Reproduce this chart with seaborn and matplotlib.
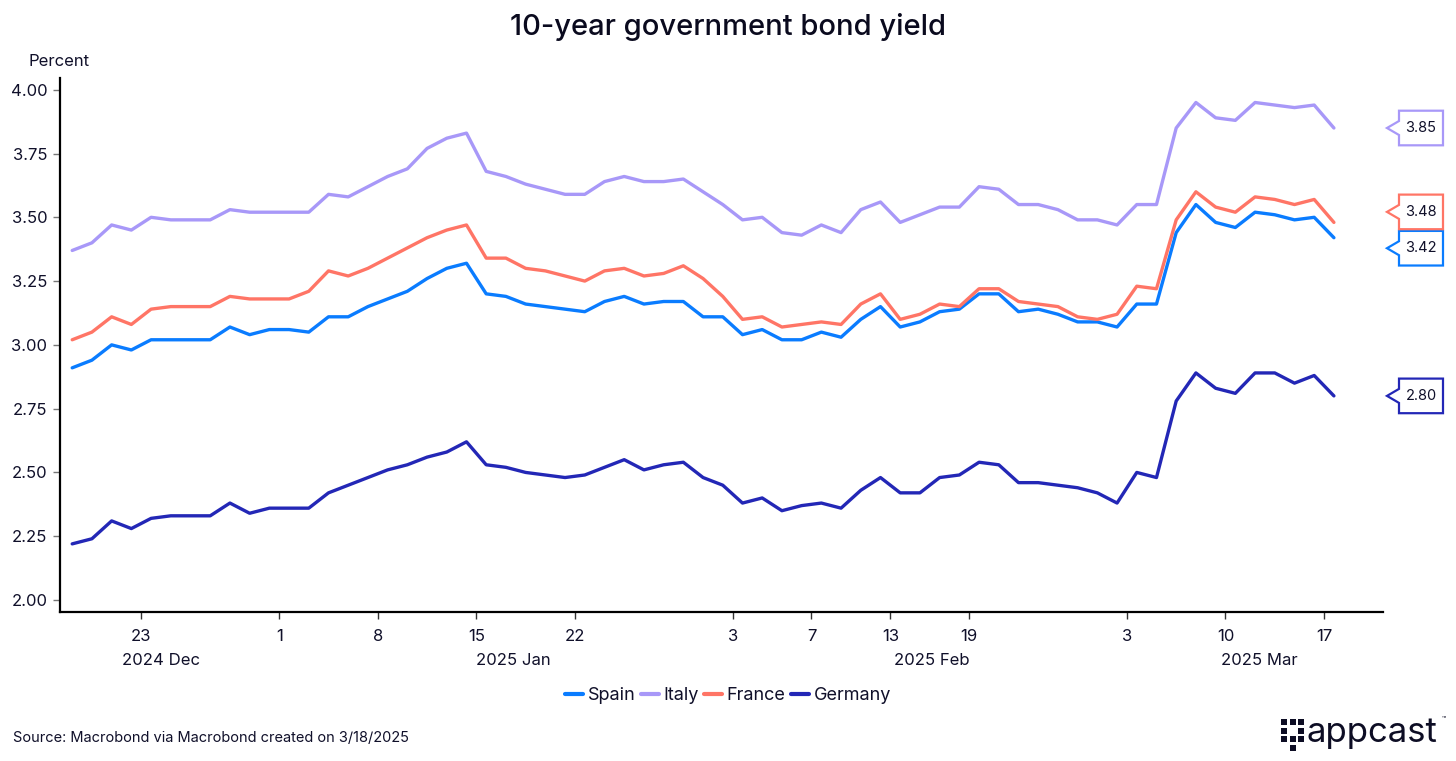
import numpy as np
import pandas as pd
import matplotlib.pyplot as plt
import seaborn as sns
from matplotlib.patches import Polygon, Rectangle
from matplotlib.transforms import IdentityTransform, blended_transform_factory

# daily (business day) yields, 17 Dec 2024 .. 17 Mar 2025
dates = pd.bdate_range("2024-12-17", "2025-03-17")

spain = [2.91, 2.94, 3.00, 2.98, 3.02, 3.02, 3.02, 3.02, 3.07, 3.04, 3.06, 3.06, 3.05, 3.11, 3.11, 3.15, 3.18, 3.21, 3.26, 3.30, 3.32, 3.20,
         3.19, 3.16, 3.15, 3.14, 3.13, 3.17, 3.19, 3.16, 3.17, 3.17, 3.11, 3.11, 3.04, 3.06, 3.02, 3.02, 3.05, 3.03, 3.10, 3.15,
         3.07, 3.09, 3.13, 3.14, 3.20, 3.20, 3.13, 3.14, 3.12, 3.09, 3.09, 3.07, 3.16, 3.16, 3.44, 3.55, 3.48, 3.46, 3.52, 3.51, 3.49, 3.50, 3.42]
italy = [3.37, 3.40, 3.47, 3.45, 3.50, 3.49, 3.49, 3.49, 3.53, 3.52, 3.52, 3.52, 3.52, 3.59, 3.58, 3.62, 3.66, 3.69, 3.77, 3.81, 3.83, 3.68,
         3.66, 3.63, 3.61, 3.59, 3.59, 3.64, 3.66, 3.64, 3.64, 3.65, 3.60, 3.55, 3.49, 3.50, 3.44, 3.43, 3.47, 3.44, 3.53, 3.56,
         3.48, 3.51, 3.54, 3.54, 3.62, 3.61, 3.55, 3.55, 3.53, 3.49, 3.49, 3.47, 3.55, 3.55, 3.85, 3.95, 3.89, 3.88, 3.95, 3.94, 3.93, 3.94, 3.85]
france = [3.02, 3.05, 3.11, 3.08, 3.14, 3.15, 3.15, 3.15, 3.19, 3.18, 3.18, 3.18, 3.21, 3.29, 3.27, 3.30, 3.34, 3.38, 3.42, 3.45, 3.47, 3.34,
          3.34, 3.30, 3.29, 3.27, 3.25, 3.29, 3.30, 3.27, 3.28, 3.31, 3.26, 3.19, 3.10, 3.11, 3.07, 3.08, 3.09, 3.08, 3.16, 3.20,
          3.10, 3.12, 3.16, 3.15, 3.22, 3.22, 3.17, 3.16, 3.15, 3.11, 3.10, 3.12, 3.23, 3.22, 3.49, 3.60, 3.54, 3.52, 3.58, 3.57, 3.55, 3.57, 3.48]
germany = [2.22, 2.24, 2.31, 2.28, 2.32, 2.33, 2.33, 2.33, 2.38, 2.34, 2.36, 2.36, 2.36, 2.42, 2.45, 2.48, 2.51, 2.53, 2.56, 2.58, 2.62, 2.53,
           2.52, 2.50, 2.49, 2.48, 2.49, 2.52, 2.55, 2.51, 2.53, 2.54, 2.48, 2.45, 2.38, 2.40, 2.35, 2.37, 2.38, 2.36, 2.43, 2.48,
           2.42, 2.42, 2.48, 2.49, 2.54, 2.53, 2.46, 2.46, 2.45, 2.44, 2.42, 2.38, 2.50, 2.48, 2.78, 2.89, 2.83, 2.81, 2.89, 2.89, 2.85, 2.88, 2.80]

countries = ["Spain", "Italy", "France", "Germany"]
colors = {"Spain": "#0a7cff", "Italy": "#a898f8", "France": "#ff7566", "Germany": "#2327b6"}

tick_dates = ["2024-12-23", "2025-01-01", "2025-01-08", "2025-01-15", "2025-01-22", "2025-02-03",
              "2025-02-07", "2025-02-13", "2025-02-19", "2025-03-03", "2025-03-10", "2025-03-17"]
tick_labels = ["23", "1", "8", "15", "22", "3", "7", "13", "19", "3", "10", "17"]
month_labels = ["2024 Dec", "2025 Jan", "2025 Feb", "2025 Mar"]
month_pos = [4.5, 22.4, 43.6, 60.2]

# business-day index as x
pos = np.arange(len(dates))
df = pd.DataFrame({"pos": np.tile(pos, 4),
                   "country": np.repeat(countries, len(dates)),
                   "yield": spain + italy + france + germany})

sns.set_theme(style="white")
plt.rcParams["font.family"] = ["Inter", "DejaVu Sans"]
ink = "#10102a"

fig = plt.figure(figsize=(14.56, 7.61), dpi=100)
ax = fig.add_axes([0.0412, 0.1958, 0.9088, 0.7017])

sns.lineplot(data=df, x="pos", y="yield", hue="country", hue_order=countries,
             palette=colors, linewidth=2.4, ax=ax, legend=False)

ax.set_xlim(-0.62, 66.5)
ax.set_ylim(1.953, 4.046)
ax.set_yticks(np.arange(2.0, 4.01, 0.25))
ax.set_yticklabels([f"{v:.2f}" for v in np.arange(2.0, 4.01, 0.25)], fontsize=12, color=ink)
tick_pos = [dates.get_loc(pd.Timestamp(d)) - 0.5 for d in tick_dates]
ax.set_xticks(tick_pos)
ax.set_xticklabels(tick_labels, fontsize=12, color=ink)
ax.set_xlabel("")
ax.set_ylabel("")
for s in ["top", "right"]:
    ax.spines[s].set_visible(False)
for s in ["left", "bottom"]:
    ax.spines[s].set_color("black")
    ax.spines[s].set_linewidth(1.6)
ax.tick_params(axis="y", length=5, width=1, color="#777777", pad=4, left=True)
ax.tick_params(axis="x", length=5, width=1, color="#333333", pad=7, bottom=True)

trans = blended_transform_factory(ax.transData, ax.transAxes)
for lab, p in zip(month_labels, month_pos):
    ax.text(p, -0.09, lab, transform=trans, ha="center", va="center", fontsize=12, color=ink)

fig.text(28 / 1456, 1 - 62 / 761, "Percent", ha="left", va="center", fontsize=12, color=ink)
fig.text(0.5, 1 - 27 / 761, "10-year government bond yield", ha="center", va="center",
         fontsize=21, fontweight="medium", color="#0a0a1e")

# end-of-line value callouts
last = {"Spain": spain[-1], "Italy": italy[-1], "France": france[-1], "Germany": germany[-1]}
nudge = {"Spain": -10.5, "Italy": 0, "France": 10.5, "Germany": 0}
x0, x1, tip, h, notch = 1399, 1443, 1387, 34.6, 7
for c in countries:
    yc = ax.transData.transform((0, last[c]))[1] + nudge[c]
    verts = [(x0, yc + h / 2), (x1, yc + h / 2), (x1, yc - h / 2), (x0, yc - h / 2),
             (x0, yc - notch), (tip, yc), (x0, yc + notch)]
    fig.add_artist(Polygon(verts, closed=True, facecolor="white", edgecolor=colors[c],
                           linewidth=1.6, transform=IdentityTransform(), clip_on=False))
    fig.text((x0 + x1) / 2 / 1456, yc / 761, f"{last[c]:.2f}", ha="center", va="center",
             fontsize=10.5, color=ink)

# legend
handles = [plt.Line2D([], [], color=colors[c], linewidth=3) for c in countries]
fig.legend(handles, countries, loc="center", bbox_to_anchor=(0.5, 1 - 696 / 761), ncol=4,
           frameon=False, fontsize=13, handlelength=1.0, handletextpad=0.25, columnspacing=0.3,
           labelcolor=ink)

fig.text(13 / 1456, 1 - 738 / 761, "Source: Macrobond via Macrobond created on 3/18/2025",
         ha="left", va="center", fontsize=10.5, color=ink)

# appcast logo
sq = 6
cells = [(0, 0), (1, 0), (2, 0), (0, 1), (2, 1), (0, 2), (1, 2), (2, 2), (1, 3)]
for cx, cy in cells:
    fig.add_artist(Rectangle(((1281 + cx * 8.5) / 1456, (761 - 719 - cy * 8.5 - sq) / 761),
                             sq / 1456, sq / 761, transform=fig.transFigure,
                             facecolor="#0d0d24", edgecolor="none"))
fig.text(1306 / 1456, 1 - 733 / 761, "appcast", ha="left", va="center", fontsize=25,
         color="#0d0d24")
fig.text(1442 / 1456, 1 - 718 / 761, "™", ha="left", va="center", fontsize=5, color="#0d0d24")

fig.savefig("out.png", dpi=100)
